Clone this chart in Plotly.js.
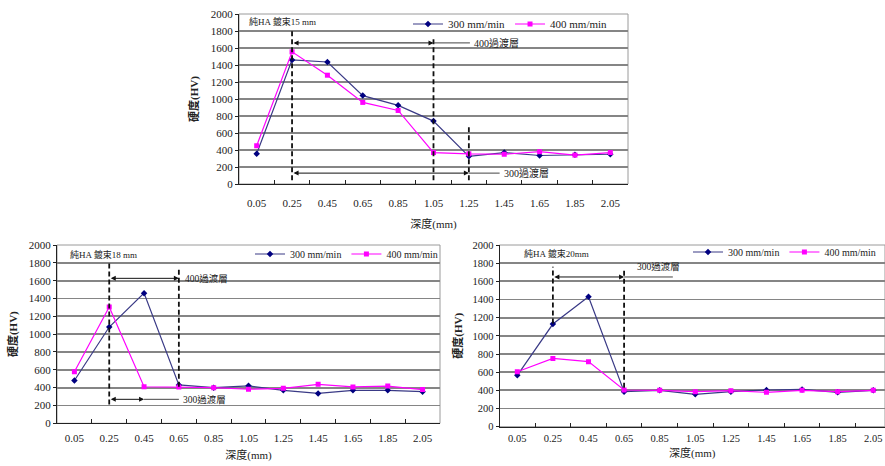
<!DOCTYPE html>
<html>
<head>
<meta charset="utf-8">
<script src="https://cdn.plot.ly/plotly-3.0.1.min.js"></script>
<style>html,body{margin:0;padding:0;background:#fff;overflow:hidden;}#chart{width:885px;height:466px;}</style>
</head>
<body>
<div id="chart"></div>
<script>
// ---- data ----
const categories = ['0.05','0.25','0.45','0.65','0.85','1.05','1.25','1.45','1.65','1.85','2.05'];
const seriesNames = ['300 mm/min', '400 mm/min'];
const top300 = [355, 1460, 1435, 1040, 925, 740, 325, 370, 335, 345, 350];
const top400 = [450, 1555, 1280, 960, 865, 370, 355, 350, 380, 340, 370];
const bl300  = [480, 1080, 1460, 430, 400, 420, 370, 335, 370, 370, 355];
const bl400  = [578, 1305, 410, 408, 400, 382, 392, 437, 408, 418, 378];
const br300  = [565, 1130, 1430, 385, 400, 356, 385, 404, 410, 378, 400];
const br400  = [605, 752, 716, 404, 400, 385, 396, 378, 400, 385, 400];
const chartLabels = ['純HA 鍍束15 mm', '純HA 鍍束18 mm', '純HA 鍍束20mm'];
const xTitle = '深度(mm)';
const yTitle = '硬度(HV)';

const W = 885, H = 466;
const fx = p => p / W;
const fy = p => 1 - p / H;
const SERIF = "'Liberation Serif','Times New Roman','Noto Sans CJK TC',serif";
const CJK = "'Liberation Serif','Noto Sans CJK TC',serif";

function mkTraces(v300, v400, xa, ya, lg) {
  return [
    {x: categories, y: v300, name: seriesNames[0], xaxis: xa, yaxis: ya, legend: lg,
     mode: 'lines+markers', line: {color: '#3a3a86', width: 1.2},
     marker: {symbol: 'diamond', size: 5, color: '#000080'}},
    {x: categories, y: v400, name: seriesNames[1], xaxis: xa, yaxis: ya, legend: lg,
     mode: 'lines+markers', line: {color: '#ff00ff', width: 1.2},
     marker: {symbol: 'square', size: 5, color: '#ff00ff'}}
  ];
}

const data = [].concat(
  mkTraces(top300, top400, 'x', 'y', 'legend'),
  mkTraces(bl300, bl400, 'x2', 'y2', 'legend2'),
  mkTraces(br300, br400, 'x3', 'y3', 'legend3')
);

function xAxis(dom, anchor, rmax, lsOff, tStand, fs) {
  return {
    domain: dom, anchor: anchor, type: 'category', range: [-0.5, rmax],
    showgrid: false, zeroline: false, showline: true, linecolor: '#222', linewidth: 1,
    ticks: 'inside', tickson: 'boundaries', ticklen: 4, tickcolor: '#222',
    ticklabelstandoff: lsOff,
    tickfont: {family: SERIF, size: fs, color: '#222'},
    title: {text: xTitle, font: {family: CJK, size: 11, color: '#222'}, standoff: tStand},
    fixedrange: true
  };
}
function yAxis(dom, anchor, tStand, fs) {
  return {
    domain: dom, anchor: anchor, range: [0, 2000], dtick: 200, tick0: 0,
    showgrid: true, gridcolor: '#858585', gridwidth: 1.8, zeroline: false,
    showline: true, linecolor: '#222', linewidth: 1,
    ticks: 'outside', ticklen: 3, tickcolor: '#222',
    tickfont: {family: SERIF, size: fs, color: '#222'},
    title: {text: yTitle, font: {family: CJK, size: 11, color: '#222', weight: 'bold'}, standoff: tStand},
    fixedrange: true
  };
}

// plot areas in pixels
const P1 = {l: 239, r: 628, t: 14, b: 184};
const P2 = {l: 57, r: 440, t: 245, b: 423.3};
const P3 = {l: 499.5, r: 885, t: 245, b: 426.7};

const idx = c => categories.indexOf(c);

function dashed(xr, yr, c, y0, y1) {
  return {type: 'line', xref: xr, yref: yr, x0: idx(c), x1: idx(c), y0: y0, y1: y1,
          line: {color: '#111', width: 1.8, dash: '5px,3px'}, layer: 'above'};
}
function ext(xr, yr, x0, x1, y) {
  return {type: 'line', xref: xr, yref: yr, x0: x0, x1: x1, y0: y, y1: y,
          line: {color: '#444', width: 1}, layer: 'above'};
}
function frame(xr, yr) {
  return {type: 'rect', xref: xr + ' domain', yref: yr + ' domain', x0: 0, x1: 1, y0: 0, y1: 1,
          line: {color: '#9a9a9a', width: 1}, layer: 'below'};
}
function arrow(xr, yr, c0, c1, y) {
  return {xref: xr, yref: yr, axref: xr, ayref: yr, x: idx(c1), y: y, ax: idx(c0), ay: y,
          text: '', showarrow: true, arrowhead: 2, arrowside: 'end+start', arrowsize: 1,
          arrowwidth: 1, arrowcolor: '#111', standoff: 0, startstandoff: 0};
}
function label(xr, yr, x, y, txt, fs, anchor) {
  return {xref: xr, yref: yr, x: x, y: y, text: txt, showarrow: false, xanchor: anchor || 'left',
          yanchor: 'middle', font: {family: CJK, size: fs, color: '#222'}};
}

const shapes = [
  frame('x', 'y'), frame('x2', 'y2'), frame('x3', 'y3'),
  // top chart
  dashed('x', 'y', '0.25', 45, 1810),
  dashed('x', 'y', '1.05', 45, 1730),
  dashed('x', 'y', '1.25', 45, 680),
  ext('x', 'y', idx('1.05'), 6.03, 1660),
  ext('x', 'y', idx('1.25'), 6.87, 128),
  // bottom left
  dashed('x2', 'y2', '0.25', 210, 1800),
  dashed('x2', 'y2', '0.65', 410, 1745),
  ext('x2', 'y2', idx('0.45'), 3.0, 269),
  // bottom right
  dashed('x3', 'y3', '0.25', 1135, 1760),
  dashed('x3', 'y3', '0.65', 430, 1740),
  ext('x3', 'y3', idx('0.65'), 4.37, 1648)
];

const annotations = [
  label('paper', 'paper', fx(247), fy(22), chartLabels[0], 9),
  label('paper', 'paper', fx(68), fy(255), chartLabels[1], 9),
  label('paper', 'paper', fx(522), fy(253), chartLabels[2], 9),
  arrow('x', 'y', '0.25', '1.05', 1660),
  label('x', 'y', 6.1, 1660, '400過渡層', 10),
  arrow('x', 'y', '0.25', '1.25', 128),
  label('x', 'y', 6.93, 128, '300過渡層', 10),
  arrow('x2', 'y2', '0.25', '0.65', 1626),
  label('x2', 'y2', 3.12, 1626, '400過渡層', 9.5),
  arrow('x2', 'y2', '0.25', '0.45', 269),
  label('x2', 'y2', 3.05, 269, '300過渡層', 9.5),
  arrow('x3', 'y3', '0.25', '0.65', 1648),
  label('x3', 'y3', 3.32, 1760, '300過渡層', 9.5)
];

function legendAt(xpx, ypx, fs) {
  return {orientation: 'h', x: fx(xpx), y: fy(ypx), xanchor: 'left', yanchor: 'middle',
          bgcolor: 'rgba(0,0,0,0)', borderwidth: 0, itemwidth: 30,
          font: {family: SERIF, size: fs, color: '#222'}, itemclick: false, itemdoubleclick: false};
}

const layout = {
  width: W, height: H, autosize: false,
  margin: {l: 0, r: 0, t: 0, b: 0, pad: 0, autoexpand: false},
  paper_bgcolor: '#fff', plot_bgcolor: '#fff',
  showlegend: true,
  xaxis:  xAxis([fx(P1.l), fx(P1.r)], 'y', 10.5, 9, 12, 11),
  yaxis:  yAxis([fy(P1.b), fy(P1.t)], 'x', 9, 11),
  xaxis2: xAxis([fx(P2.l), fx(P2.r)], 'y2', 10.5, 4, 8, 11),
  yaxis2: yAxis([fy(P2.b), fy(P2.t)], 'x2', 8, 11),
  xaxis3: xAxis([fx(P3.l), fx(P3.r)], 'y3', 10.33, 2, 6, 10.5),
  yaxis3: yAxis([fy(P3.b), fy(P3.t)], 'x3', 7, 10.5),
  legend: legendAt(408, 24, 11),
  legend2: legendAt(250, 254, 10),
  legend3: legendAt(688, 252, 10),
  shapes: shapes,
  annotations: annotations
};

Plotly.newPlot('chart', data, layout, {displayModeBar: false, staticPlot: true});
</script>
</body>
</html>
